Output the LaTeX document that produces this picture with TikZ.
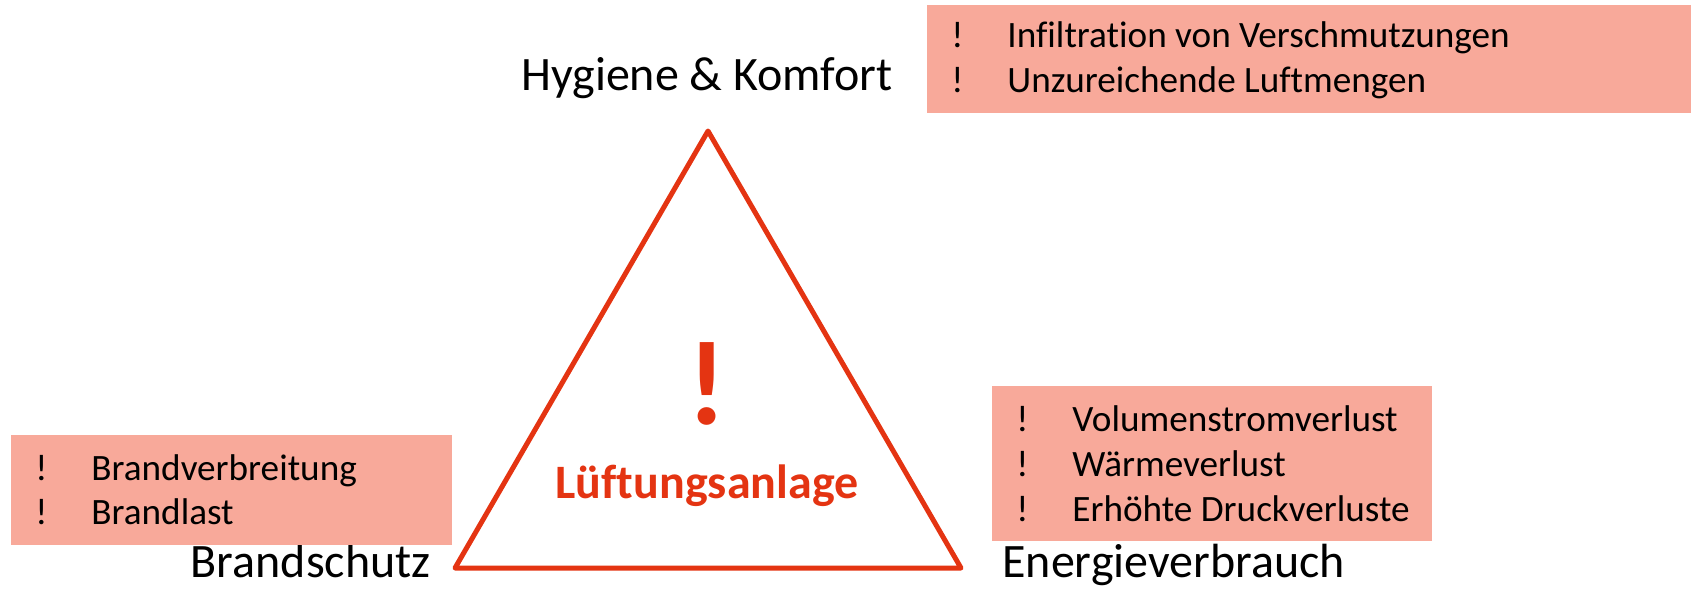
\documentclass[tikz,border=0pt]{standalone}
\usepackage{fontspec}
\setmainfont{Carlito}[Ligatures=NoCommon]

\definecolor{alarmred}{RGB}{228,52,18}
\definecolor{riskfill}{RGB}{248,169,154}

\begin{document}
\begin{tikzpicture}[x=0.5pt, y=-0.5pt, inner sep=0pt,
    corner/.style={font=\fontsize{24}{29}\selectfont, anchor=base},
    riskbox/.style={fill=riskfill},
    riskmark/.style={font=\fontsize{18.6}{22}\selectfont, anchor=base west},
    riskitem/.style={font=\fontsize{18.6}{22}\selectfont, anchor=base west}]
    % Fix the canvas to the size of the picture
    \useasboundingbox (0,0) rectangle (1691,589);

    % Corners of the warning triangle
    \coordinate (T) at (708,131);
    \coordinate (L) at (455,568);
    \coordinate (R) at (961,568);

    % Draw the triangle
    \draw[alarmred, line width=2.5pt, line join=round] (T) -- (L) -- (R) -- cycle;

    % Big exclamation mark and the name of the system
    \node[font=\bfseries\fontsize{60}{70}\selectfont, text=alarmred, anchor=base] (alarm) at (707,424) {!};
    \node[font=\bfseries\fontsize{24}{29}\selectfont, text=alarmred, anchor=base] (system) at (707,498) {Lüftungsanlage};

    % Labels at the corners
    \node[corner] (hygiene) at (707,90) {Hygiene \& Komfort};
    \node[corner, anchor=base east] (brand) at (431,577) {Brandschutz};
    \node[corner, anchor=base west] (energie) at (1002,577) {Energieverbrauch};

    % Risk boxes
    \fill[riskbox] (927,5) rectangle (1691,113);
    \fill[riskbox] (11,435) rectangle (452,545);
    \fill[riskbox] (992,386) rectangle (1432,541);

    % Risks for hygiene and comfort
    \foreach \y/\txt [count=\i] in {47/Infiltration von Verschmutzungen, 92/Unzureichende Luftmengen} {
        \node[riskmark] (hkmark\i) at (951,\y) {!};
        \node[riskitem] (hkitem\i) at (1007,\y) {\txt};
    }

    % Risks for fire protection
    \foreach \y/\txt [count=\i] in {480/Brandverbreitung, 524/Brandlast} {
        \node[riskmark] (bsmark\i) at (35,\y) {!};
        \node[riskitem] (bsitem\i) at (91,\y) {\txt};
    }

    % Risks for energy use
    \foreach \y/\txt [count=\i] in {431/Volumenstromverlust, 476/Wärmeverlust, 521/Erhöhte Druckverluste} {
        \node[riskmark] (evmark\i) at (1016,\y) {!};
        \node[riskitem] (evitem\i) at (1072,\y) {\txt};
    }

\end{tikzpicture}
\end{document}
